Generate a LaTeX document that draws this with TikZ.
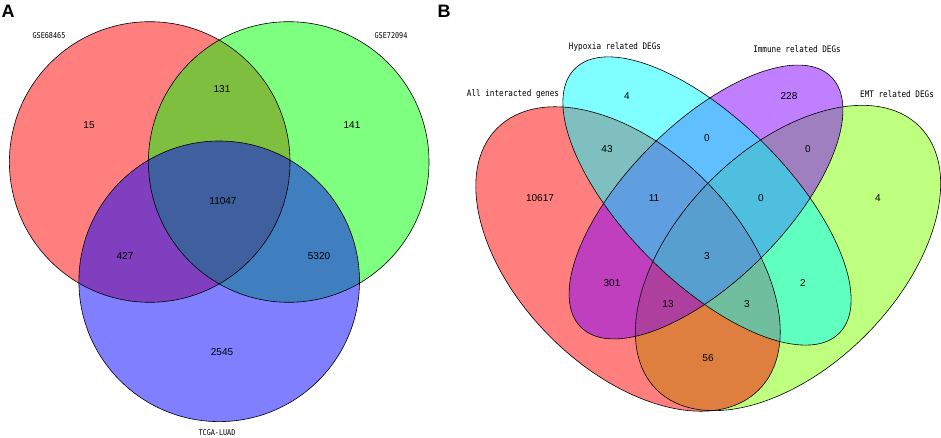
\documentclass[tikz,border=0pt]{standalone}
\usepackage{fontspec}
\setmainfont{Liberation Sans}
\newfontfamily\lblfont[FakeStretch=0.85]{DejaVu Sans Mono}
\definecolor{vred}{RGB}{255,0,0}
\definecolor{vgreenA}{RGB}{0,255,0}
\definecolor{vblue}{RGB}{0,0,255}
\definecolor{vchart}{RGB}{128,255,0}
\definecolor{vviolet}{RGB}{128,0,255}
\definecolor{vcyan}{RGB}{0,255,255}
\begin{document}
\begin{tikzpicture}[x=1pt,y=-1pt,
  vfill/.style={fill=#1, fill opacity=0.5},
  vline/.style={draw=black, line width=0.6pt},
  num/.style={font=\fontsize{10}{12}\selectfont, inner sep=0pt},
  setlabA/.style={font=\lblfont\fontsize{8}{10}\selectfont, inner sep=0pt},
  setlabB/.style={font=\lblfont\fontsize{9}{11}\selectfont, inner sep=0pt},
  panel/.style={font=\bfseries\fontsize{18}{20}\selectfont, inner sep=0pt}]
\useasboundingbox (0,0) rectangle (941,438);
\fill[white] (0,0) rectangle (941,438);

% ---------- Panel A ----------
\coordinate (cR) at (149.7,162);
\coordinate (cG) at (288.7,162);
\coordinate (cB) at (219.2,281.3);
\fill[vfill=vred] (cR) circle[radius=140.3pt];
\fill[vfill=vgreenA] (cG) circle[radius=140.3pt];
\fill[vfill=vblue] (cB) circle[radius=140.3pt];
\draw[vline] (cR) circle[radius=140.3pt];
\draw[vline] (cG) circle[radius=140.3pt];
\draw[vline] (cB) circle[radius=140.3pt];

\node[panel] (pA) at (8,11) {A};
\node[setlabA] (lA1) at (49,36) {GSE68465};
\node[setlabA] (lA2) at (391,36) {GSE72094};
\node[setlabA] (lA3) at (217,433) {TCGA-LUAD};
\node[num] (a15) at (89,125) {15};
\node[num] (a131) at (222,89) {131};
\node[num] (a141) at (352,125) {141};
\node[num] (a11047) at (223,201) {11047};
\node[num] (a427) at (125,256) {427};
\node[num] (a5320) at (319,256) {5320};
\node[num] (a2545) at (222,352) {2545};

% ---------- Panel B ----------
\coordinate (eE) at (788,258);
\coordinate (eA) at (628,259);
\coordinate (eI) at (706,202);
\coordinate (eH) at (707,201);
\fill[vfill=vchart, rotate around={45:(eE)}] (eE) ellipse[x radius=186pt, y radius=109.5pt];
\fill[vfill=vred, rotate around={-45:(eA)}] (eA) ellipse[x radius=185pt, y radius=110pt];
\fill[vfill=vviolet, rotate around={45:(eI)}] (eI) ellipse[x radius=177pt, y radius=78.5pt];
\fill[vfill=vcyan, rotate around={-45:(eH)}] (eH) ellipse[x radius=187pt, y radius=81pt];
\draw[vline, rotate around={45:(eE)}] (eE) ellipse[x radius=186pt, y radius=109.5pt];
\draw[vline, rotate around={-45:(eA)}] (eA) ellipse[x radius=185pt, y radius=110pt];
\draw[vline, rotate around={45:(eI)}] (eI) ellipse[x radius=177pt, y radius=78.5pt];
\draw[vline, rotate around={-45:(eH)}] (eH) ellipse[x radius=187pt, y radius=81pt];

\node[panel] (pB) at (444,11) {B};
\node[setlabB] (lB1) at (513,94) {All interacted genes};
\node[setlabB] (lB2) at (615,47) {Hypoxia related DEGs};
\node[setlabB] (lB3) at (797,49) {Immune related DEGs};
\node[setlabB] (lB4) at (897,94) {EMT related DEGs};

\node[num] (b4a) at (627,96) {4};
\node[num] (b228) at (789,96) {228};
\node[num] (b43) at (607,149) {43};
\node[num] (b0a) at (707,138) {0};
\node[num] (b0b) at (808,149) {0};
\node[num] (b10617) at (540,198) {10617};
\node[num] (b11) at (654,198) {11};
\node[num] (b0c) at (761,198) {0};
\node[num] (b4b) at (878,198) {4};
\node[num] (b3a) at (707,256) {3};
\node[num] (b301) at (612,283) {301};
\node[num] (b2) at (803,283) {2};
\node[num] (b13) at (668,304) {13};
\node[num] (b3b) at (747,304) {3};
\node[num] (b56) at (708,358) {56};
\end{tikzpicture}
\end{document}
